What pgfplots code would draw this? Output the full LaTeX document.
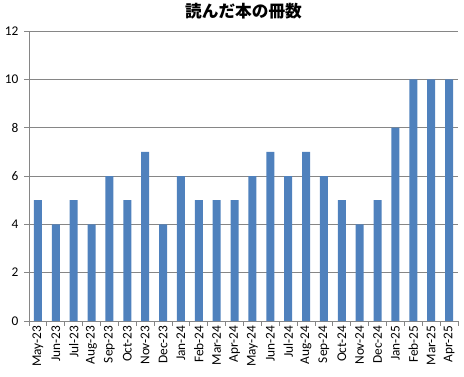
\documentclass[border=0pt]{standalone}
\usepackage{pgfplots}
\pgfplotsset{compat=1.18}
\usepackage{fontspec}
\setmainfont{Carlito}
\newfontfamily\cjk{Noto Sans CJK JP}
\definecolor{barblue}{HTML}{4F81BD}
\definecolor{gridgray}{HTML}{868686}
\begin{document}
\begin{tikzpicture}[x=0.75pt,y=0.75pt]
\useasboundingbox (0,0) rectangle (464,376);
\begin{axis}[
  at={(29pt*0.75,55pt*0.75)}, anchor=south west,
  scale only axis, width=321.75pt, height=217.5pt,
  xmin=-0.5, xmax=23.5, ymin=0, ymax=12,
  ytick={0,2,...,12},
  xtick={-0.5,0.5,...,23.5}, xticklabels={},
  extra x ticks={0,...,23},
  extra x tick labels={May-23,Jun-23,Jul-23,Aug-23,Sep-23,Oct-23,Nov-23,Dec-23,Jan-24,Feb-24,Mar-24,Apr-24,May-24,Jun-24,Jul-24,Aug-24,Sep-24,Oct-24,Nov-24,Dec-24,Jan-25,Feb-25,Mar-25,Apr-25},
  extra x tick style={major tick length=0pt, tick label style={rotate=90, anchor=east, font=\fontsize{10}{12}\selectfont}},
  tick align=outside, major tick length=3.5pt,
  axis x line*=bottom, axis y line*=left,
  axis line style={gridgray, line width=0.6pt},
  tick style={gridgray, line width=0.6pt},
  ymajorgrids, grid style={gridgray, line width=0.6pt},
  yticklabel style={font=\fontsize{10}{12}\selectfont, xshift=-1pt},
  /pgf/number format/assume math mode=true,
  ybar, bar width=6pt,
  title={\cjk\bfseries\fontsize{12.5}{15}\selectfont 読んだ本の冊数},
  title style={yshift=-1pt},
  clip=false,
]
\addplot[fill=barblue, draw=none] coordinates {
(0,5) (1,4) (2,5) (3,4) (4,6) (5,5) (6,7) (7,4) (8,6) (9,5) (10,5) (11,5)
(12,6) (13,7) (14,6) (15,7) (16,6) (17,5) (18,4) (19,5) (20,8) (21,10) (22,10) (23,10)
};
\end{axis}
\end{tikzpicture}
\end{document}
